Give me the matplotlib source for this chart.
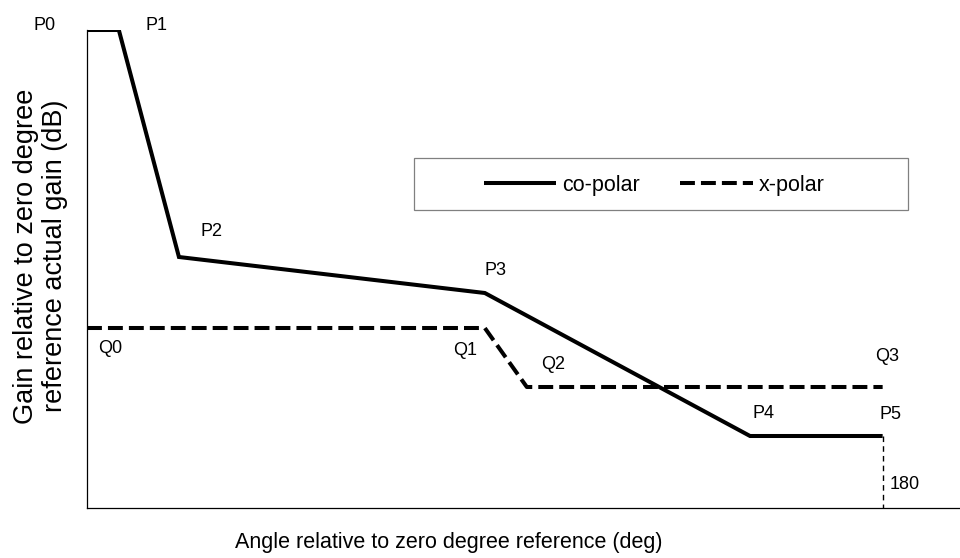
import matplotlib
matplotlib.use("Agg")
import matplotlib.pyplot as plt
from matplotlib.patches import Rectangle

plt.rcParams['font.family'] = ['Liberation Sans', 'DejaVu Sans']

# co-polar envelope (angle deg, relative gain dB)
co_names = ["P0", "P1", "P2", "P3", "P4", "P5"]
co_x = [0, 7.2, 20.8, 90, 150, 180]
co_y = [0, 0, -22.7, -26.3, -40.6, -40.6]

# x-polar envelope
xp_names = ["Q0", "Q1", "Q2", "Q3"]
xp_x = [0, 90, 99.5, 180]
xp_y = [-29.8, -29.8, -35.7, -35.7]

# label offsets in pixels from each point
co_off = [(-42, 5), (38, 5), (33, 25), (11, 23), (13, 23), (8, 22)]
xp_off = [(23, -20), (-20, -22), (26, 23), (4, 31)]

y_bottom = -47.8
x_right = 197.5

fig = plt.figure(figsize=(9.6, 5.58), dpi=100)
ax = fig.add_axes([87 / 960, 50 / 558, 873 / 960, 478 / 558])

ax.plot(co_x, co_y, color='black', lw=2.9, solid_capstyle='butt',
        solid_joinstyle='miter', label='co-polar')
ax.plot(xp_x, xp_y, color='black', lw=2.9, linestyle=(0, (3.7, 1.5)),
        label='x-polar')
ax.plot([co_x[-1], co_x[-1]], [co_y[-1], y_bottom], color='black', lw=1.0,
        linestyle=(0, (4, 3)))

for name, x, y, off in zip(co_names, co_x, co_y, co_off):
    ax.annotate(name, (x, y), xytext=off, textcoords='offset pixels',
                ha='center', va='center', fontsize=13)
for name, x, y, off in zip(xp_names, xp_x, xp_y, xp_off):
    ax.annotate(name, (x, y), xytext=off, textcoords='offset pixels',
                ha='center', va='center', fontsize=13)
ax.annotate("180", (co_x[-1], y_bottom), xytext=(22, 24),
            textcoords='offset pixels', ha='center', va='center', fontsize=13)

ax.set_xlim(0, x_right)
ax.set_ylim(y_bottom, 0)
ax.set_xticks([])
ax.set_yticks([])
for s in ['top', 'right']:
    ax.spines[s].set_visible(False)
for s in ['left', 'bottom']:
    ax.spines[s].set_linewidth(0.9)

ax.set_xlabel("Angle relative to zero degree reference (deg)", fontsize=15.5,
              labelpad=17)
ax.xaxis.label.set_x(0.414)
ax.set_ylabel("Gain relative to zero degree\nreference actual gain (dB)",
              fontsize=19.5, labelpad=14, linespacing=1.15)
ax.yaxis.label.set_y(0.527)

# legend box
ax.add_patch(Rectangle((0.3746, 0.623), 0.5655, 0.109, transform=ax.transAxes,
                       facecolor='white', edgecolor='#808080', lw=0.9,
                       zorder=3))
leg = ax.legend(loc='center', bbox_to_anchor=(0.6495, 0.675),
                ncol=2, fontsize=15.5, frameon=False,
                handlelength=3.35, handletextpad=0.28, columnspacing=1.9,
                borderpad=0.2)
leg.set_zorder(4)

fig.savefig("out.png", dpi=100)
